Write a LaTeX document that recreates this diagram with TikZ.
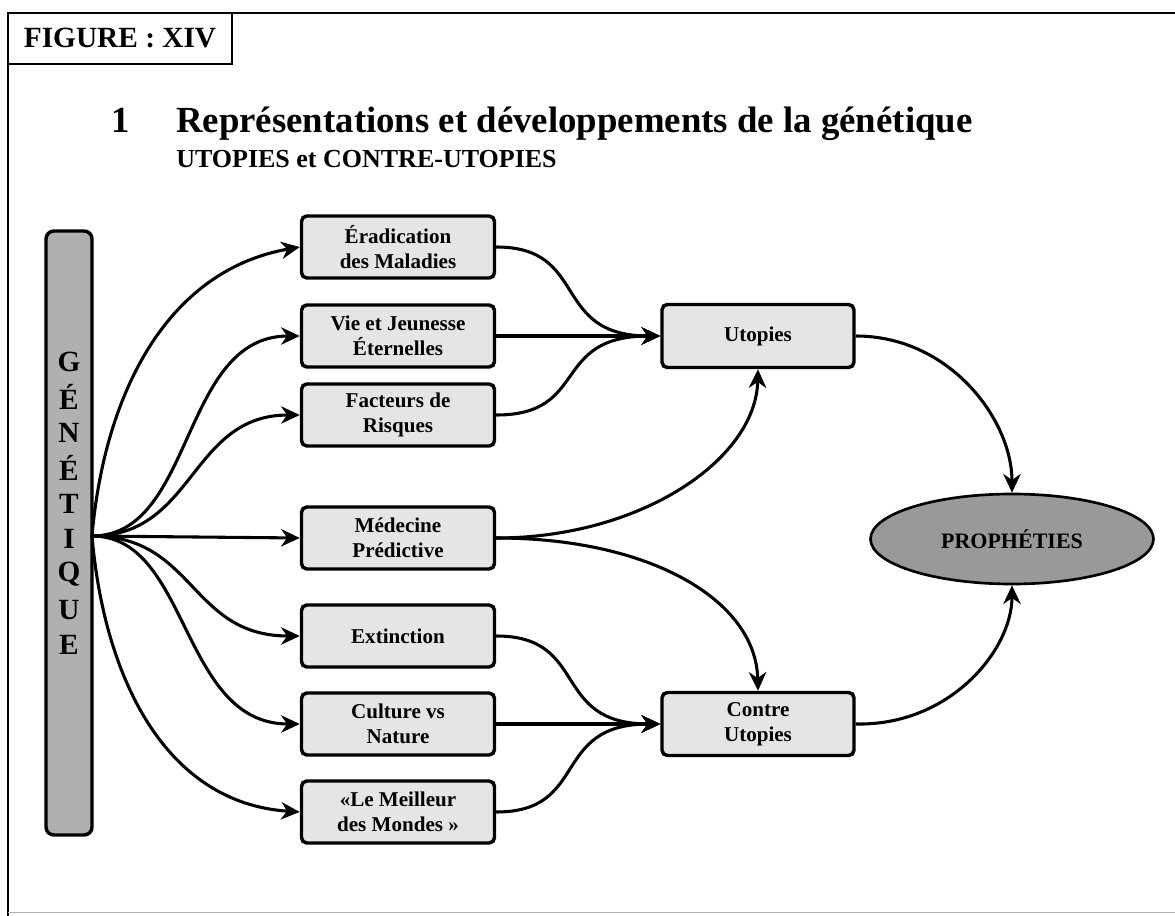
\documentclass[tikz,border=0pt]{standalone}
\usepackage{fontspec}
\setmainfont{Liberation Serif}
\usetikzlibrary{arrows.meta,shapes.geometric}

\definecolor{boxgray}{HTML}{E5E5E5}
\definecolor{bargray}{HTML}{B0B0B0}
\definecolor{ovalgray}{HTML}{999999}

\tikzset{
  frame/.style={line width=2.2pt, black},
  topicbox/.style={draw, line width=2.6pt, rounded corners=4pt, fill=boxgray,
    minimum width=193*0.75pt, minimum height=62*0.75pt, inner sep=2pt,
    align=center, font=\fontsize{15.8}{18.4}\selectfont\bfseries},
  goalbox/.style={topicbox, minimum width=192*0.75pt, minimum height=63*0.75pt},
  link/.style={line width=2.3pt, -{Stealth[length=14pt, width=13pt, inset=4.5pt]}},
}

\begin{document}
\begin{tikzpicture}[x=0.75pt, y=-0.75pt]
  \useasboundingbox (0,0) rectangle (1175,916);
  \fill[white] (0,0) rectangle (1175,916);

  % page frame and figure tag
  \draw[frame] (8,916) -- (8,13) -- (1175,13);
  \draw[line width=0.6pt, gray!60] (8,912) -- (1175,912);
  \node[draw, line width=2.2pt, minimum width=224*0.75pt, minimum height=51*0.75pt,
        inner sep=0pt, font=\fontsize{22}{24}\selectfont\bfseries]
        (tag) at (120,38.5) {FIGURE : XIV};

  % headings
  \node[anchor=base west, inner sep=0pt, font=\fontsize{27.6}{30}\selectfont\bfseries]
        (num) at (111,133) {1};
  \node[anchor=base west, inner sep=0pt, font=\fontsize{27.6}{30}\selectfont\bfseries]
        (title) at (176,133) {Représentations et développements de la génétique};
  \node[anchor=base west, inner sep=0pt, font=\fontsize{19.5}{22}\selectfont\bfseries]
        (subtitle) at (176,168) {UTOPIES et CONTRE-UTOPIES};

  % vertical source bar
  \node[draw, line width=2.6pt, rounded corners=6pt, fill=bargray,
        minimum width=46*0.75pt, minimum height=604*0.75pt, inner sep=0pt]
        (gen) at (69,533) {};
  \foreach \ch [count=\i from 0] in {G,É,N,É,T,I,Q,U,E}
    \node[font=\fontsize{22}{24}\selectfont\bfseries, inner sep=0pt]
      (gl\i) at (69,{362+35.4*\i}) {\ch};

  % themes
  \node[topicbox] (erad) at (398,247) {Éradication\\des Maladies};
  \node[topicbox] (vie)  at (398,336) {Vie et Jeunesse\\Éternelles};
  \node[topicbox] (fact) at (398,415) {Facteurs de\\Risques};
  \node[topicbox] (med)  at (398,538) {Médecine\\Prédictive};
  \node[topicbox] (ext)  at (398,636) {Extinction};
  \node[topicbox] (cult) at (398,724) {Culture vs\\Nature};
  \node[topicbox] (meil) at (398,812) {«Le Meilleur\\des Mondes »};

  % outcomes
  \node[goalbox] (utop)   at (758,336) {Utopies};
  \node[goalbox] (contre) at (758,724) {Contre\\Utopies};
  \node[ellipse, draw, line width=2pt, fill=ovalgray, minimum width=283*0.75pt,
        minimum height=90*0.75pt, inner sep=0pt,
        font=\fontsize{16.5}{18}\selectfont\bfseries] (proph) at (1012,539) {PROPHÉTIES};

  % fan out of the bar
  \coordinate (hub) at (92,536);
  \draw[link] (hub) .. controls (104,398) and (164,271) .. (erad.west);
  \draw[link] (hub) .. controls (195,536) and (180,336) .. (vie.west);
  \draw[link] (hub) .. controls (195,536) and (190,415) .. (fact.west);
  \draw[link] (hub) -- (med.west);
  \draw[link] (hub) .. controls (195,536) and (190,636) .. (ext.west);
  \draw[link] (hub) .. controls (190,536) and (180,724) .. (cult.west);
  \draw[link] (hub) .. controls (104,676) and (164,803) .. (meil.west);

  % themes into outcomes
  \draw[link] (erad.east) .. controls (590,247) and (550,336) .. (utop.west);
  \draw[link] (vie.east) -- (utop.west);
  \draw[link] (fact.east) .. controls (590,415) and (550,336) .. (utop.west);
  \draw[link] (med.east) .. controls (640,538) and (756,460) .. (utop.south);
  \draw[link] (med.east) .. controls (650,538) and (756,600) .. (contre.north);
  \draw[link] (ext.east) .. controls (590,636) and (550,724) .. (contre.west);
  \draw[link] (cult.east) -- (contre.west);
  \draw[link] (meil.east) .. controls (590,812) and (550,724) .. (contre.west);

  % outcomes into prophecies
  \draw[link] (utop.east) .. controls (950,336) and (1012,420) .. (proph.north);
  \draw[link] (contre.east) .. controls (950,726) and (1012,650) .. (proph.south);
\end{tikzpicture}
\end{document}
